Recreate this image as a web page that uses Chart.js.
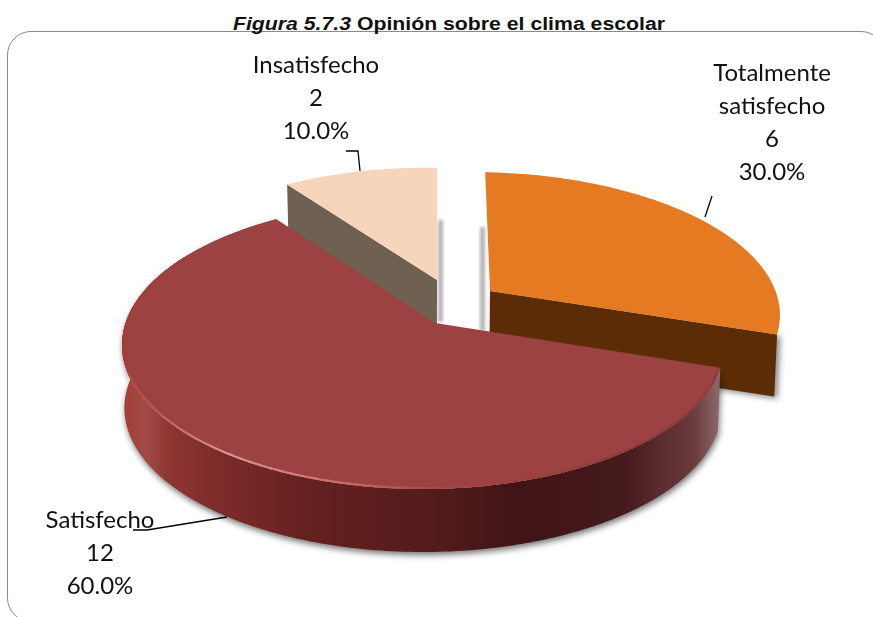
<!DOCTYPE html>
<html lang="es"><head><meta charset="utf-8">
<title>Opinión sobre el clima escolar</title>
<script src="https://cdn.jsdelivr.net/npm/chart.js@4"></script>
<style>
html,body{margin:0;padding:0;background:#fff;overflow:hidden}
#stage{position:relative;width:873px;height:617px;overflow:hidden}
#title{position:absolute;left:233px;top:14px;white-space:nowrap;transform-origin:0 0;font:bold 18px/20px "Liberation Sans",Arial,sans-serif;color:#111}
#frame{position:absolute;left:7px;top:31px;width:878px;height:591px;border:1.7px solid #8a8a8a;border-radius:24px;box-sizing:border-box}
canvas{position:absolute;left:0;top:0}
</style></head>
<body>
<div id="stage">
<div id="frame"></div>
<div id="title"><em>Figura 5.7.3</em> Opinión sobre el clima escolar</div>
<canvas id="c" width="873" height="617"></canvas>
</div>
<script>
const categories = ["Totalmente satisfecho", "Satisfecho", "Insatisfecho"];
const labelLines = [["Totalmente", "satisfecho"], ["Satisfecho"], ["Insatisfecho"]];
const values = [6, 12, 2];
const topColors = ["#e57a22", "#9c4242", "#f7d5ba"];
const wallColors = ["#5b2c05", "#4a1719", "#6f6052"];

/* look of the tilted pie: aspect of the ellipse, perspective tilt, explosion, per-slice foreshortening and thickness */
const ASPECT = 301 / 144, TILT_Y = -0.153, TILT_X = 0.04;
const EXPLODE = [[55, -32], [0, 0], [2, -43]];
const FORESHORTEN = [[1.0, 0.975, 0.04], [1, 1, 0], [0.945, 0.92, 0]];
const DEPTH = [62, 63, 45];
const LABEL_POS = [[772, 73], [100, 520], [316, 65]];
const LEADERS = [
  [[712, 196], [705, 217]],
  [[133, 530], [147, 530], [227, 517]],
  [[346, 151], [358, 151], [360, 171]]
];
const RIM_KEYS = [[110, "#8e3b3b"], [150, "#913c3c"], [178, "#a8443f"], [195, "#c96f69"], [215, "#d8988f"],
                  [235, "#bf5a55"], [255, "#a93a36"], [280, "#a53b38"], [300, "#9c4242"]];

function rawPoint(el, theta, r) {
  const R = el.outerRadius, a = R * ASPECT;
  const u = r * Math.cos(theta), v = r * Math.sin(theta);
  let d = 1 + TILT_Y * v;
  const s1 = Math.sqrt(1 - TILT_Y * TILT_Y), s2 = Math.sqrt(1 - TILT_X * TILT_X);
  const v1 = (v + TILT_Y) / d, u1 = u * s1 / d;
  d = 1 + TILT_X * u1;
  return [a * (u1 + TILT_X) / d, R * v1 * s2 / d];
}
function project(el, i, theta, r) {
  const c = rawPoint(el, 0, 0), p = rawPoint(el, theta, r);
  const [sx, sy, k] = FORESHORTEN[i];
  const dx = p[0] - c[0], dy = p[1] - c[1];
  return [el.x + c[0] + dx * sx + dy * k + EXPLODE[i][0], el.y + c[1] + dy * sy + EXPLODE[i][1]];
}
const below = (p, i, cx) => [p[0] - (p[0] - cx) * 0.008, p[1] + DEPTH[i]];

function arcPts(el, i, t0, t1) {
  const n = Math.max(4, Math.ceil(Math.abs(t1 - t0) * 60)), out = [];
  for (let k = 0; k <= n; k++) out.push(project(el, i, t0 + (t1 - t0) * k / n, 1));
  return out;
}
function path(ctx, pts) {
  ctx.beginPath();
  pts.forEach((p, k) => k ? ctx.lineTo(p[0], p[1]) : ctx.moveTo(p[0], p[1]));
  ctx.closePath();
}
function shadow(ctx, c, b, x, y) { ctx.shadowColor = c; ctx.shadowBlur = b; ctx.shadowOffsetX = x; ctx.shadowOffsetY = y; }
function noShadow(ctx) { shadow(ctx, "transparent", 0, 0, 0); }
const hex = h => [1, 3, 5].map(k => parseInt(h.substr(k, 2), 16));
function rimColor(deg) {
  for (let k = 1; k < RIM_KEYS.length; k++) {
    if (deg <= RIM_KEYS[k][0]) {
      const f = (deg - RIM_KEYS[k - 1][0]) / (RIM_KEYS[k][0] - RIM_KEYS[k - 1][0]);
      const A = hex(RIM_KEYS[k - 1][1]), B = hex(RIM_KEYS[k][1]);
      return "rgb(" + A.map((c, j) => Math.round(c + (B[j] - c) * f)).join(",") + ")";
    }
  }
  return RIM_KEYS[RIM_KEYS.length - 1][1];
}
function topPath(ctx, el, i) {
  path(ctx, [project(el, i, 0, 0), ...arcPts(el, i, el.startAngle, el.endAngle)]);
}
function drawTop(ctx, el, i) {
  topPath(ctx, el, i);
  ctx.fillStyle = el.options.backgroundColor;
  ctx.fill();
}
function drawWall(ctx, el, i, theta) {
  const A = project(el, i, 0, 0), B = project(el, i, theta, 1);
  path(ctx, [A, B, below(B, i, el.x), below(A, i, el.x)]);
  ctx.fillStyle = wallColors[i];
  ctx.fill();
}

const pie3d = {
  id: "pie3d",
  beforeDatasetsDraw(chart) {
    const ctx = chart.ctx, arcs = chart.getDatasetMeta(0).data;
    const [o, s, t] = arcs;
    ctx.save();

    /* cast shadows in the gap between the slices */
    ctx.fillStyle = "rgba(120,120,120,.55)";
    ctx.filter = "blur(1.5px)";
    ctx.fillRect(438, 220, 5, 102);
    ctx.fillRect(480, 227, 5, 104);
    ctx.filter = "none";

    /* Insatisfecho */
    drawWall(ctx, t, 2, t.startAngle);
    drawTop(ctx, t, 2);

    /* Totalmente satisfecho */
    shadow(ctx, "rgba(0,0,0,.5)", 6, 3, 2);
    drawWall(ctx, o, 0, o.endAngle);
    noShadow(ctx);
    drawTop(ctx, o, 0);

    /* Satisfecho: side */
    const tp = arcPts(s, 1, s.startAngle, s.endAngle);
    const bt = tp.map(p => below(p, 1, s.x)).reverse();
    const xL = s.x - s.outerRadius * ASPECT, xR = s.x + s.outerRadius * ASPECT;
    const g = ctx.createLinearGradient(xL, 0, xR, 0);
    [[0, "#a63c38"], [0.04, "#a04a46"], [0.08, "#8e3431"], [0.16, "#7d2c2a"], [0.3, "#652120"],
     [0.5, "#551c1c"], [0.66, "#401416"], [0.83, "#451a1c"], [0.95, "#6b3b3d"], [0.99, "#8a6668"], [1, "#8a6668"]]
      .forEach(c => g.addColorStop(c[0], c[1]));
    shadow(ctx, "rgba(0,0,0,.55)", 6, 1, 3);
    path(ctx, [...tp, ...bt]);
    ctx.fillStyle = g;
    ctx.fill();
    noShadow(ctx);

    /* Satisfecho: top and bevelled rim, clipped to the face */
    drawTop(ctx, s, 1);
    ctx.save();
    topPath(ctx, s, 1);
    ctx.clip();
    ctx.lineWidth = 4;
    ctx.lineCap = "round";
    for (let deg = 110; deg < 300; deg += 2) {
      const ps = arcPts(s, 1, (deg - 90) * Math.PI / 180, (deg - 88) * Math.PI / 180);
      ctx.beginPath();
      ps.forEach((p, k) => k ? ctx.lineTo(p[0], p[1]) : ctx.moveTo(p[0], p[1]));
      ctx.strokeStyle = rimColor(deg);
      ctx.stroke();
    }
    ctx.restore();

    ctx.restore();
    return true;
  },
  beforeDatasetDraw() { return false; },
  afterDatasetsDraw(chart) {
    const ctx = chart.ctx, total = values.reduce((a, b) => a + b, 0);
    ctx.save();
    ctx.strokeStyle = "#000"; ctx.lineWidth = 1.3;
    LEADERS.forEach(l => {
      ctx.beginPath();
      l.forEach((p, k) => k ? ctx.lineTo(p[0], p[1]) : ctx.moveTo(p[0], p[1]));
      ctx.stroke();
    });
    ctx.fillStyle = "#111";
    ctx.font = '24px Lato, "Open Sans", sans-serif';
    ctx.textAlign = "center"; ctx.textBaseline = "middle";
    values.forEach((v, i) => {
      const lines = [...labelLines[i], String(v), (v / total * 100).toFixed(1) + "%"];
      lines.forEach((s, k) => ctx.fillText(s, LABEL_POS[i][0], LABEL_POS[i][1] + k * 33));
    });
    ctx.restore();
  }
};

new Chart(document.getElementById("c"), {
  type: "pie",
  data: { labels: categories, datasets: [{ data: values, backgroundColor: topColors, borderWidth: 0 }] },
  options: {
    responsive: false, animation: false, devicePixelRatio: 1,
    layout: { padding: { top: 201, bottom: 128, left: 124, right: 151 } },
    plugins: { legend: { display: false }, tooltip: { enabled: false }, title: { display: false } }
  },
  plugins: [pie3d]
});

/* the reference title is stretched horizontally */
const ti = document.getElementById("title");
ti.style.transform = "scaleX(" + (432 / ti.getBoundingClientRect().width) + ")";
</script>
</body></html>
